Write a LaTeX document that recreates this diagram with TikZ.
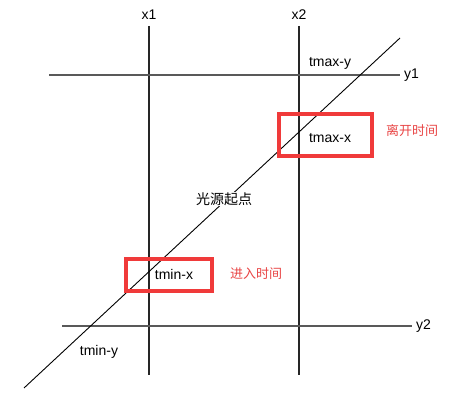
\documentclass[tikz,border=0pt]{standalone}
\usepackage{fontspec}
\setmainfont{Liberation Sans}
\newfontfamily\cjk{Noto Sans CJK SC}
\definecolor{boxred}{HTML}{F03A3A}
\definecolor{labelred}{HTML}{E84444}
\begin{document}
\begin{tikzpicture}[x=1pt,y=-1pt,font=\fontsize{14}{16}\selectfont,
    vline/.style={line width=1.3pt,black!85},
    hline/.style={line width=1.5pt,black!65},
    ray/.style={line width=0.9pt,black},
    redbox/.style={line width=3.2pt,boxred},
    redlabel/.style={text=labelred,font=\fontsize{13}{15}\selectfont\cjk}]
    \useasboundingbox (0,0) rectangle (464,401);

    % the slabs
    \coordinate (x1top) at (149,26);
    \coordinate (x1bot) at (149,375);
    \coordinate (x2top) at (299,26);
    \coordinate (x2bot) at (299,375);
    \draw[vline] (x1top) -- (x1bot);
    \draw[vline] (x2top) -- (x2bot);
    \node (x1) at (149,15) {x1};
    \node (x2) at (299,15) {x2};

    \coordinate (y1left) at (49,75);
    \coordinate (y1right) at (400,75);
    \coordinate (y2left) at (62,326);
    \coordinate (y2right) at (412,326);
    \draw[hline] (y1left) -- (y1right);
    \draw[hline] (y2left) -- (y2right);
    \node[anchor=west,inner sep=4pt] (y1) at (y1right) {y1};
    \node[anchor=west,inner sep=4pt] (y2) at (y2right) {y2};

    % the ray
    \coordinate (raystart) at (24,388);
    \coordinate (rayend) at (400,38);
    \draw[ray] (raystart) -- (rayend);
    \node[fill=white,inner sep=1pt,font=\fontsize{14}{16}\selectfont\cjk] (origin) at (224,199) {光源起点};

    % hit times
    \node (tmaxy) at (330,63) {tmax-y};
    \node (tmaxx) at (330,138) {tmax-x};
    \node (tminx) at (174,274) {tmin-x};
    \node (tminy) at (99,352) {tmin-y};

    \draw[redbox] (279,114) rectangle (372,156);
    \draw[redbox] (126,259) rectangle (212,291);
    \node[redlabel] (leave) at (412,131) {离开时间};
    \node[redlabel] (enter) at (256,274) {进入时间};
\end{tikzpicture}
\end{document}
